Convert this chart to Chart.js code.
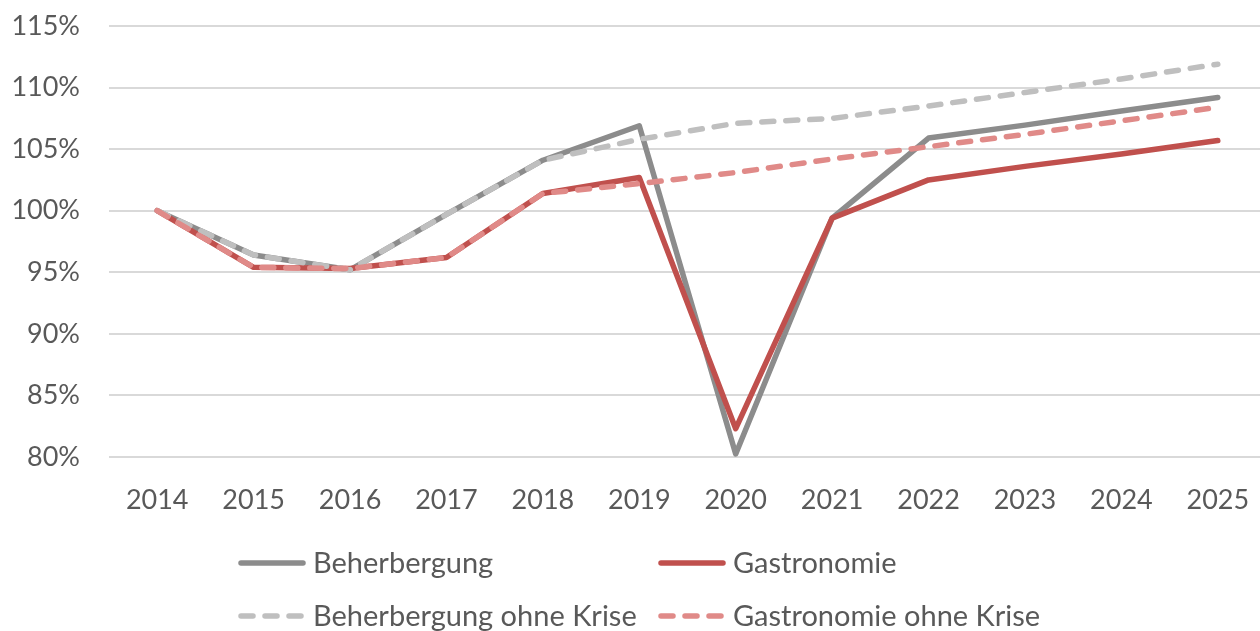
<!DOCTYPE html>
<html>
<head>
<meta charset="utf-8">
<script src="https://cdn.jsdelivr.net/npm/chart.js@4"></script>
<style>
  html, body { margin: 0; padding: 0; background: #ffffff; overflow: hidden; }
  #wrap { position: relative; width: 1268px; height: 631px; }
</style>
</head>
<body>
<div id="wrap"><canvas id="c"></canvas></div>
<script>
// Jahre (Kategorien)
const years = ['2014', '2015', '2016', '2017', '2018', '2019', '2020', '2021', '2022', '2023', '2024', '2025'];

// Index 2014 = 100 %
const beherbergung = [100, 96.4, 95.2, 99.7, 104.1, 106.9, 80.25, 99.4, 105.9, 106.95, 108.1, 109.2];
const gastronomie = [100, 95.4, 95.3, 96.2, 101.4, 102.7, 82.3, 99.4, 102.5, 103.6, 104.6, 105.7];
const beherbergungOhneKrise = [100, 96.4, 95.2, 99.7, 104.1, 105.8, 107.1, 107.5, 108.5, 109.6, 110.7, 111.9];
const gastronomieOhneKrise = [100, 95.4, 95.3, 96.2, 101.4, 102.2, 103.1, 104.2, 105.2, 106.2, 107.3, 108.4];

const yTicks = [80, 85, 90, 95, 100, 105, 110, 115];

const FONT = 'Lato, "Open Sans", sans-serif';
const TEXT = '#595959';

// Legende in zwei Spalten unter dem Diagramm
const gridLegend = {
  id: 'gridLegend',
  afterDraw(chart) {
    const ctx = chart.ctx;
    const cols = [238, 658];
    const rows = [563, 616];
    ctx.save();
    ctx.font = '29px ' + FONT;
    ctx.textBaseline = 'middle';
    ctx.textAlign = 'left';
    chart.data.datasets.forEach((ds, k) => {
      const x = cols[k % 2];
      const y = rows[Math.floor(k / 2)];
      ctx.strokeStyle = ds.borderColor;
      ctx.lineWidth = ds.borderWidth;
      ctx.lineCap = 'round';
      ctx.setLineDash(ds.borderDash || []);
      ctx.beginPath();
      ctx.moveTo(x + 3, y);
      ctx.lineTo(x + 65, y);
      ctx.stroke();
      ctx.setLineDash([]);
      ctx.fillStyle = TEXT;
      ctx.fillText(ds.label, x + 75, y + 1);
    });
    ctx.restore();
  }
};

const common = {
  fill: false,
  pointRadius: 0,
  pointHoverRadius: 0,
  tension: 0,
  borderWidth: 5.5,
  borderCapStyle: 'round',
  borderJoinStyle: 'round'
};

new Chart(document.getElementById('c'), {
  type: 'line',
  data: {
    labels: years,
    datasets: [
      Object.assign({}, common, { label: 'Beherbergung', data: beherbergung, borderColor: '#8c8c8c', order: 4 }),
      Object.assign({}, common, { label: 'Gastronomie', data: gastronomie, borderColor: '#c0504d', order: 3 }),
      Object.assign({}, common, { label: 'Beherbergung ohne Krise', data: beherbergungOhneKrise, borderColor: '#bfbfbf', borderDash: [12, 12], order: 2 }),
      Object.assign({}, common, { label: 'Gastronomie ohne Krise', data: gastronomieOhneKrise, borderColor: '#e08a88', borderDash: [12, 12], order: 1 })
    ]
  },
  options: {
    responsive: true,
    maintainAspectRatio: false,
    animation: false,
    events: [],
    layout: { padding: { top: 26, right: 2, bottom: 84, left: 0 } },
    plugins: {
      legend: { display: false },
      tooltip: { enabled: false }
    },
    scales: {
      x: {
        offset: true,
        grid: { display: false, drawTicks: true, tickLength: 27, tickColor: 'rgba(0,0,0,0)' },
        border: { display: false },
        ticks: {
          color: TEXT,
          font: { family: FONT, size: 27 },
          padding: 0,
          maxRotation: 0,
          autoSkip: false
        },
        afterFit(scale) { scale.height = 90; }
      },
      y: {
        min: 80,
        max: 115,
        afterBuildTicks(scale) { scale.ticks = yTicks.map(v => ({ value: v })); },
        grid: { color: '#d9d9d9', lineWidth: 2, drawTicks: true, tickLength: 29, tickColor: 'rgba(0,0,0,0)' },
        border: { display: false },
        ticks: {
          color: TEXT,
          font: { family: FONT, size: 27 },
          padding: 0,
          callback: v => v + '%'
        },
        afterFit(scale) { scale.width = 109; }
      }
    }
  },
  plugins: [gridLegend]
});
</script>
</body>
</html>
